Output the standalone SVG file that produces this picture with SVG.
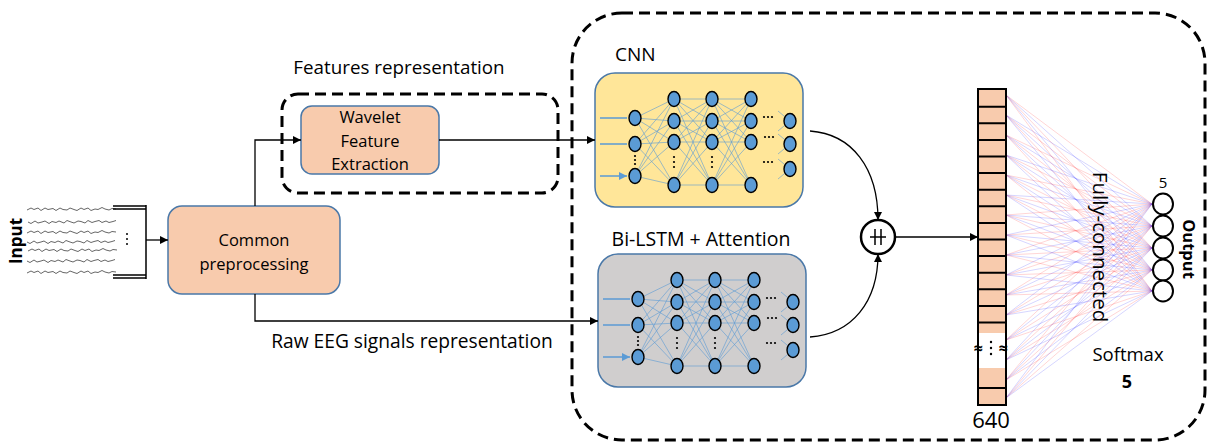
<svg xmlns="http://www.w3.org/2000/svg" xmlns:xlink="http://www.w3.org/1999/xlink" width="1214" height="445" viewBox="0 0 1214 445">
<style>
text{font-family:"Open Sans","Noto Sans","Liberation Sans",sans-serif;fill:#000}
.box{fill:#F8CBAD;stroke:#4A78A8;stroke-width:1.5}
.dash{fill:none;stroke:#000;stroke-width:3;stroke-dasharray:11 6}
.con{fill:none;stroke:#000;stroke-width:1.3}
.nl{fill:none;stroke:#5B9BD5;stroke-width:0.8;opacity:0.75}
.nd{fill:#5B9BD5;stroke:#000;stroke-width:1.4}
.wave{fill:none;stroke:#666;stroke-width:1}
</style>
<defs>
<marker id="ah" viewBox="0 0 10 10" refX="10" refY="5" markerWidth="9" markerHeight="8" markerUnits="userSpaceOnUse" orient="auto"><path d="M0 0L10 5L0 10z" fill="#000"/></marker>
<marker id="bh" viewBox="0 0 10 10" refX="10" refY="5" markerWidth="9" markerHeight="8" markerUnits="userSpaceOnUse" orient="auto"><path d="M0 0L10 5L0 10z" fill="#5B9BD5"/></marker>
<path id="wA" class="wave" d="M0 0l4 -2l3 1.5l4 -1.5l3 2.5l4 -2.5l3 1.5l5 -1l3 2l4 -2.5l3 1.5l4 0.5l3 -2l4 1.5l3 1l4 -2.5l3 1.5l4 -1.5l3 2.5l4 -1.5l3 0.5l4 -2l3 1.5l4 1l3 -1.5l4 0.5"/>
<path id="wB" class="wave" d="M0 0l3 1.5l4 -2.5l3 2l4 -1l3 -1l4 2.5l3 -2l4 1l3 -1.5l5 2l3 -2.5l4 1.5l3 1l4 -2l3 0.5l4 1.5l3 -2.5l4 2l3 -1l4 -1l3 2l4 -1.5l3 1.5l4 -1l3 -1"/>
<g id="net">
<path class="nl" d="M635 118L674 99M635 118L674 121M635 118L674 142M635 118L674 185M635 144L674 99M635 144L674 121M635 144L674 142M635 144L674 185M635 176L674 99M635 176L674 121M635 176L674 142M635 176L674 185
M674 99L712 99M674 99L712 121M674 99L712 142M674 99L712 185M674 121L712 99M674 121L712 121M674 121L712 142M674 121L712 185M674 142L712 99M674 142L712 121M674 142L712 142M674 142L712 185M674 185L712 99M674 185L712 121M674 185L712 142M674 185L712 185
M712 99L751 99M712 99L751 121M712 99L751 142M712 99L751 185M712 121L751 99M712 121L751 121M712 121L751 142M712 121L751 185M712 142L751 99M712 142L751 121M712 142L751 142M712 142L751 185M712 185L751 99M712 185L751 121M712 185L751 142M712 185L751 185
M778 111L790 121M778 131L790 121M778 134L790 144M778 154L790 144M778 159L790 169M778 179L790 169"/>
<path fill="none" stroke="#5B9BD5" stroke-width="1.3" marker-end="url(#bh)" d="M600 118H627M600 144H627M600 176H627"/>
<g class="nd">
<ellipse cx="635" cy="118" rx="6" ry="7.5"/><ellipse cx="635" cy="144" rx="6" ry="7.5"/><ellipse cx="635" cy="176" rx="6" ry="7.5"/>
<ellipse cx="674" cy="99" rx="6" ry="7.5"/><ellipse cx="674" cy="121" rx="6" ry="7.5"/><ellipse cx="674" cy="142" rx="6" ry="7.5"/><ellipse cx="674" cy="185" rx="6" ry="7.5"/>
<ellipse cx="712" cy="99" rx="6" ry="7.5"/><ellipse cx="712" cy="121" rx="6" ry="7.5"/><ellipse cx="712" cy="142" rx="6" ry="7.5"/><ellipse cx="712" cy="185" rx="6" ry="7.5"/>
<ellipse cx="751" cy="99" rx="6" ry="7.5"/><ellipse cx="751" cy="121" rx="6" ry="7.5"/><ellipse cx="751" cy="142" rx="6" ry="7.5"/><ellipse cx="751" cy="185" rx="6" ry="7.5"/>
<ellipse cx="790" cy="121" rx="6" ry="7.5"/><ellipse cx="790" cy="144" rx="6" ry="7.5"/><ellipse cx="790" cy="169" rx="6" ry="7.5"/>
</g>
<g fill="#000">
<circle cx="635" cy="156" r="1.1"/><circle cx="635" cy="160" r="1.1"/><circle cx="635" cy="164" r="1.1"/>
<circle cx="674" cy="157" r="1.1"/><circle cx="674" cy="162" r="1.1"/><circle cx="674" cy="167" r="1.1"/>
<circle cx="712" cy="157" r="1.1"/><circle cx="712" cy="162" r="1.1"/><circle cx="712" cy="167" r="1.1"/>
<circle cx="764" cy="117" r="1.1"/><circle cx="768" cy="117" r="1.1"/><circle cx="772" cy="117" r="1.1"/>
<circle cx="765" cy="137" r="1.1"/><circle cx="769" cy="137" r="1.1"/><circle cx="773" cy="137" r="1.1"/>
<circle cx="764" cy="162" r="1.1"/><circle cx="768" cy="162" r="1.1"/><circle cx="772" cy="162" r="1.1"/>
</g>
</g>
</defs>

<rect class="dash" x="572" y="13" width="633" height="427" rx="50"/>

<g id="input">
<use href="#wA" x="27" y="210"/><use href="#wB" x="28" y="222"/><use href="#wA" x="27" y="233"/><use href="#wB" x="27" y="242"/><use href="#wA" x="28" y="251"/><use href="#wB" x="27" y="261"/><use href="#wA" x="27" y="273"/>
<path d="M113 206H146M113 209H146M113 275H146M113 278H146M146 205V279" fill="none" stroke="#000" stroke-width="1.5"/>
<g fill="#000"><circle cx="127" cy="234" r="1"/><circle cx="127" cy="239" r="1"/><circle cx="127" cy="244" r="1"/></g>
<text transform="translate(22 241) rotate(-90)" text-anchor="middle" font-size="17" font-weight="bold">Input</text>
</g>

<g id="common">
<rect class="box" x="168" y="206" width="172" height="88" rx="14"/>
<text x="254" y="246" text-anchor="middle" font-size="16.5">Common</text>
<text x="254" y="270" text-anchor="middle" font-size="16.5">preprocessing</text>
</g>

<g id="features">
<rect class="dash" x="282" y="94" width="276" height="99" rx="16"/>
<text x="399" y="74" text-anchor="middle" font-size="18.8">Features representation</text>
</g>

<g id="wavelet">
<rect class="box" x="301" y="106" width="138" height="68" rx="11"/>
<text x="370" y="123" text-anchor="middle" font-size="16.5">Wavelet</text>
<text x="370" y="147" text-anchor="middle" font-size="16.5">Feature</text>
<text x="370" y="170" text-anchor="middle" font-size="16.5">Extraction</text>
</g>

<g id="raw">
<text x="412" y="348" text-anchor="middle" font-size="19.2">Raw EEG signals representation</text>
</g>

<g id="cnn">
<text x="615" y="61" font-size="19">CNN</text>
<rect x="595" y="73" width="208" height="134" rx="20" fill="#FFE699" stroke="#4A78A8" stroke-width="1.5"/>
<use href="#net"/>
</g>

<g id="bilstm">
<text x="701" y="246" text-anchor="middle" font-size="19.5">Bi-LSTM + Attention</text>
<rect x="598" y="254" width="208" height="133" rx="20" fill="#D0CECE" stroke="#4A78A8" stroke-width="1.5"/>
<use href="#net" transform="translate(3 181)"/>
</g>

<g id="concat">
<circle cx="878" cy="237" r="17" fill="#fff" stroke="#000" stroke-width="2.5"/>
<path d="M875 229V245M881 229V245M870 237H886" stroke="#000" stroke-width="1.5"/>
</g>

<g id="fc">
<path fill="none" stroke="#FF3030" stroke-width="0.8" opacity="0.25" d="M1006 95L1152 204M1006 95L1152 248M1006 95L1152 291M1006 115L1152 226M1006 115L1152 270M1006 135L1152 204M1006 135L1152 248M1006 135L1152 291M1006 155L1152 226M1006 155L1152 270M1006 175L1152 204M1006 175L1152 248M1006 175L1152 291M1006 195L1152 226M1006 195L1152 270M1006 215L1152 204M1006 215L1152 248M1006 215L1152 291M1006 235L1152 226M1006 235L1152 270M1006 255L1152 204M1006 255L1152 248M1006 255L1152 291M1006 275L1152 226M1006 275L1152 270M1006 295L1152 204M1006 295L1152 248M1006 295L1152 291M1006 315L1152 226M1006 315L1152 270M1006 340L1152 204M1006 340L1152 248M1006 340L1152 291M1006 360L1152 226M1006 360L1152 270M1006 380L1152 204M1006 380L1152 248M1006 380L1152 291M1006 398L1152 226M1006 398L1152 270"/>
<path fill="none" stroke="#3030FF" stroke-width="0.8" opacity="0.25" d="M1006 95L1152 226M1006 95L1152 270M1006 115L1152 204M1006 115L1152 248M1006 115L1152 291M1006 135L1152 226M1006 135L1152 270M1006 155L1152 204M1006 155L1152 248M1006 155L1152 291M1006 175L1152 226M1006 175L1152 270M1006 195L1152 204M1006 195L1152 248M1006 195L1152 291M1006 215L1152 226M1006 215L1152 270M1006 235L1152 204M1006 235L1152 248M1006 235L1152 291M1006 255L1152 226M1006 255L1152 270M1006 275L1152 204M1006 275L1152 248M1006 275L1152 291M1006 295L1152 226M1006 295L1152 270M1006 315L1152 204M1006 315L1152 248M1006 315L1152 291M1006 340L1152 226M1006 340L1152 270M1006 360L1152 204M1006 360L1152 248M1006 360L1152 291M1006 380L1152 226M1006 380L1152 270M1006 398L1152 204M1006 398L1152 248M1006 398L1152 291"/>
<text transform="translate(1093 247) rotate(90)" text-anchor="middle" font-size="20.5">Fully-connected</text>
<text x="1128" y="361" text-anchor="middle" font-size="18.5">Softmax</text>
<text x="1127" y="388" text-anchor="middle" font-size="18" font-weight="bold">5</text>
</g>

<g id="vector">
<rect x="978" y="89" width="28" height="244" fill="#F8CBAD"/>
<rect x="978" y="368" width="28" height="37" fill="#F8CBAD"/>
<path d="M978 89H1006M978 106.7H1006M978 123.3H1006M978 139.9H1006M978 156.5H1006M978 173.1H1006M978 189.7H1006M978 206.3H1006M978 222.9H1006M978 239.5H1006M978 256.1H1006M978 272.7H1006M978 289.3H1006M978 305.9H1006M978 322.5H1006M978 388H1006M978 405H1006M978 88V406M1006 88V406" stroke="#000" stroke-width="2" fill="none"/>
<text x="978" y="354" text-anchor="middle" font-size="16" font-weight="bold">≈</text>
<text x="1003" y="354" text-anchor="middle" font-size="16" font-weight="bold">≈</text>
<g fill="#000"><circle cx="991" cy="342" r="1.2"/><circle cx="991" cy="348" r="1.2"/><circle cx="991" cy="354" r="1.2"/></g>
<text x="991" y="428" text-anchor="middle" font-size="22">640</text>
</g>

<g id="output">
<g fill="#fff" stroke="#000" stroke-width="2">
<ellipse cx="1163" cy="204" rx="10" ry="10.5"/><ellipse cx="1163" cy="226" rx="10" ry="10.5"/><ellipse cx="1163" cy="248" rx="10" ry="10.5"/><ellipse cx="1163" cy="270" rx="10" ry="10.5"/><ellipse cx="1163" cy="291" rx="10" ry="10.5"/>
</g>
<text x="1163" y="188" text-anchor="middle" font-size="15">5</text>
<text transform="translate(1183 249) rotate(90)" text-anchor="middle" font-size="16.5" font-weight="bold">Output</text>
</g>

<g id="connectors">
<path class="con" marker-end="url(#ah)" d="M146 240H168"/>
<path class="con" marker-end="url(#ah)" d="M255 206V140H301"/>
<path class="con" marker-end="url(#ah)" d="M439 140H595"/>
<path class="con" marker-end="url(#ah)" d="M255 294V321H598"/>
<path class="con" marker-end="url(#ah)" d="M810 131C852 134 878 168 878 220"/>
<path class="con" marker-end="url(#ah)" d="M810 337C852 334 878 302 878 254"/>
<path class="con" marker-end="url(#ah)" d="M895 237H978"/>
</g>
</svg>
